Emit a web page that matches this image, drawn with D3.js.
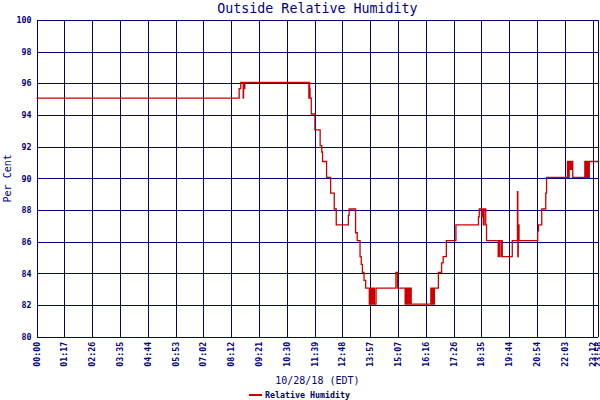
<!DOCTYPE html>
<html>
<head>
<meta charset="utf-8">
<script src="https://cdn.jsdelivr.net/npm/d3@7"></script>
<style>
  body { margin: 0; background: #fff; }
  text { font-family: "DejaVu Sans Mono", monospace; fill: #000080; }
</style>
</head>
<body>
<div id="chart"></div>
<script>
// tick labels along the time axis (they sit at equal spacing on the chart)
var tickLabels = ["00:00", "01:17", "02:26", "03:35", "04:44", "05:53", "07:02",
  "08:12", "09:21", "10:30", "11:39", "12:48", "13:57", "15:07", "16:16",
  "17:26", "18:35", "19:44", "20:54", "22:03", "23:12", "23:58"];
var yTicks = [80, 82, 84, 86, 88, 90, 92, 94, 96, 98, 100];

// readings: time of change and the humidity value from then on
var times = ["00:00", "08:32", "08:36", "08:42", "08:43", "08:45", "08:46",
  "11:25", "11:26", "11:27", "11:28", "11:31", "11:40", "11:53", "11:57", "11:59",
  "12:09", "12:19", "12:28", "12:33", "13:03", "13:05", "13:21", "13:25", "13:32",
  "13:35", "13:38", "13:42", "13:46", "13:55", "13:58", "14:00", "14:02", "14:04",
  "14:06", "14:08", "14:12", "15:02", "15:06", "15:25", "15:27", "15:30", "15:33",
  "15:35", "15:37", "15:40", "16:29", "16:32", "16:34", "16:36", "16:38", "16:48",
  "16:56", "17:00", "17:08", "17:32", "18:28", "18:30", "18:36", "18:38", "18:40",
  "18:42", "18:46", "18:48", "19:17", "19:20", "19:24", "19:26", "19:27", "19:52",
  "20:05", "20:06", "20:07", "20:08", "20:09", "20:56", "20:58", "21:06", "21:16",
  "21:18", "22:10", "22:13", "22:14", "22:16", "22:19", "22:20", "22:21", "22:23",
  "22:53", "22:55", "22:57", "22:58", "23:00", "23:02", "23:04", "23:58"];
var humidity = [95, 95.6, 96, 95, 96, 95.6, 96,
  95, 96, 95.6, 95, 94, 93, 92, 91.6, 91,
  90, 89, 88, 87, 87.6, 88, 86.5, 86, 85,
  84.5, 84, 83.5, 83, 82, 83, 82, 83, 82,
  83, 82, 83, 84, 83, 82, 83, 82, 83,
  82, 83, 82, 83, 82, 83, 82, 83, 84,
  84.6, 85, 86, 87, 87.5, 88, 87.5, 88, 87,
  88, 87, 86, 85, 86, 85, 86, 85, 86,
  89.1, 85, 86, 87, 86, 86.6, 87, 88, 89,
  90, 91, 90, 91, 90.5, 91, 90.5, 91, 90,
  91, 90, 91, 90, 91, 90, 91, 91];

function toMinutes(s) {
  var p = s.split(":");
  return +p[0] * 60 + +p[1];
}

var width = 600, height = 400;
var plotLeft = 36.5, plotRight = 598.3, plotTop = 20, plotBottom = 336.7;
var step = 27.8; // spacing between the labelled times

var tickMinutes = tickLabels.map(toMinutes);

// piecewise scale: each labelled time gets its own slot on the axis
var x = d3.scaleLinear()
  .domain(tickMinutes)
  .range(tickMinutes.map(function(d, i) {
    return i < tickMinutes.length - 1 ? plotLeft + i * step : plotRight;
  }));
var y = d3.scaleLinear().domain([80, 100]).range([plotBottom, plotTop]);

var svg = d3.select("#chart").append("svg")
  .attr("width", width)
  .attr("height", height);

svg.append("rect").attr("width", width).attr("height", height).attr("fill", "#fff");

// grid first, data line drawn over it
var xAxis = d3.axisBottom(x)
  .tickValues(tickMinutes)
  .tickFormat(function(d, i) { return tickLabels[i]; })
  .tickSize(-(plotBottom - plotTop))
  .tickSizeOuter(0)
  .tickPadding(0);

var gx = svg.append("g")
  .attr("transform", "translate(0," + plotBottom + ")")
  .call(xAxis);
gx.select(".domain").remove();
gx.selectAll("line").attr("stroke", "#000080").attr("shape-rendering", "crispEdges");
gx.selectAll("text")
  .attr("transform", "rotate(-90)")
  .attr("x", -5)
  .attr("y", 0)
  .attr("dy", "0.32em")
  .style("text-anchor", "end")
  .style("font-size", "8.3px")
  .style("font-weight", "bold");

var yAxis = d3.axisLeft(y)
  .tickValues(yTicks)
  .tickSize(-(plotRight - plotLeft))
  .tickSizeOuter(0)
  .tickPadding(5);

var gy = svg.append("g")
  .attr("transform", "translate(" + plotLeft + ",0)")
  .call(yAxis);
gy.select(".domain").remove();
gy.selectAll("line").attr("stroke", "#000080").attr("shape-rendering", "crispEdges");
gy.selectAll("text")
  .style("font-size", "8.3px")
  .style("font-weight", "bold");

var data = times.map(function(t, i) { return { t: toMinutes(t), v: humidity[i] }; });
var line = d3.line()
  .x(function(d) { return x(d.t); })
  .y(function(d) { return y(d.v) - 1; })
  .curve(d3.curveStepAfter);

svg.append("path")
  .datum(data)
  .attr("fill", "none")
  .attr("stroke", "#cc0000")
  .attr("stroke-width", 1.3)
  .attr("d", line);

// titles
svg.append("text")
  .attr("x", (plotLeft + plotRight) / 2)
  .attr("y", 13)
  .attr("text-anchor", "middle")
  .style("font-size", "13.3px")
  .text("Outside Relative Humidity");

svg.append("text")
  .attr("x", (plotLeft + plotRight) / 2)
  .attr("y", 384)
  .attr("text-anchor", "middle")
  .style("font-size", "10px")
  .text("10/28/18 (EDT)");

svg.append("text")
  .attr("transform", "translate(11," + (plotTop + plotBottom) / 2 + ") rotate(-90)")
  .attr("text-anchor", "middle")
  .style("font-size", "10px")
  .text("Per Cent");

// legend
var legend = svg.append("g").attr("transform", "translate(249,395)");
legend.append("line")
  .attr("x1", 0).attr("x2", 13)
  .attr("stroke", "#cc0000")
  .attr("stroke-width", 2);
legend.append("text")
  .attr("x", 16)
  .attr("dy", "0.32em")
  .style("font-size", "8.3px")
  .style("font-weight", "bold")
  .text("Relative Humidity");
</script>
</body>
</html>
